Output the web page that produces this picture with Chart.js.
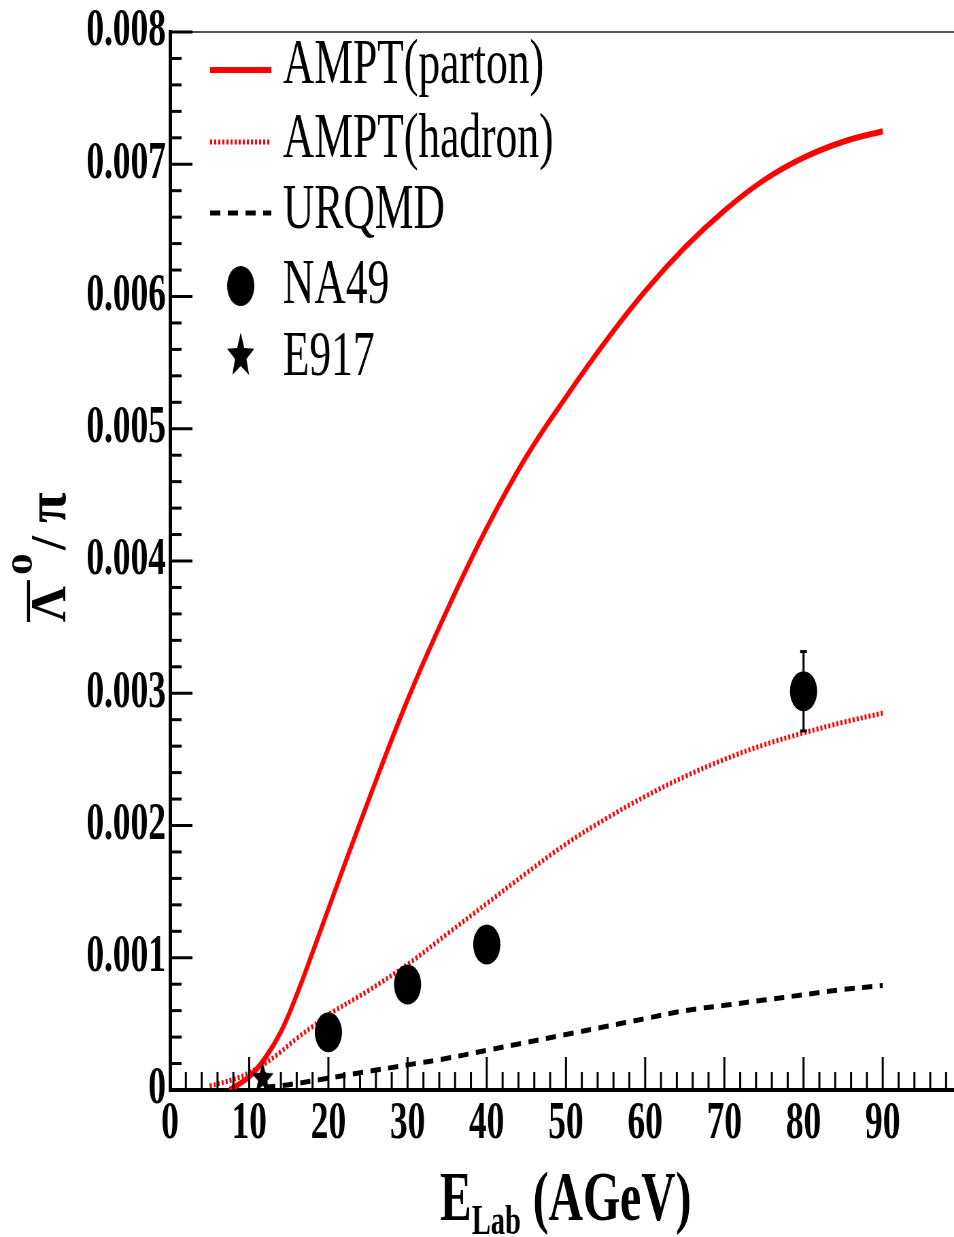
<!DOCTYPE html>
<html>
<head>
<meta charset="utf-8">
<script src="https://cdn.jsdelivr.net/npm/chart.js@4.4.0/dist/chart.umd.min.js"></script>
<style>
  html, body { margin: 0; padding: 0; background: #fff; overflow: hidden; }
  #chart { display: block; }
</style>
</head>
<body>
<!-- the plot is horizontally compressed: draw it wide and shrink it with css -->
<canvas id="chart" width="1403" height="1237" style="width:954px;height:1237px"></canvas>
<script>
const S = 954 / 1403;

// AMPT with partonic phase (solid red)
const partonX = [7.5, 10, 12, 14, 16, 18, 20, 25, 30, 35, 40, 45, 50, 55, 60, 65, 70, 75, 80, 85, 90];
const partonY = [0, 0.0001, 0.00024, 0.00044, 0.00072, 0.00104, 0.00137, 0.00218, 0.00295, 0.00363, 0.00425, 0.00479, 0.00524, 0.00566, 0.00604, 0.00637, 0.00665, 0.00688, 0.00705, 0.00717, 0.00725];

// AMPT hadronic only (dotted red)
const hadronX = [5, 8, 10, 12, 14, 16, 18, 20, 25, 30, 35, 40, 45, 50, 55, 60, 65, 70, 75, 80, 85, 90];
const hadronY = [0.00003, 0.00008, 0.00013, 0.0002, 0.00029, 0.00039, 0.00048, 0.00057, 0.00075, 0.00095, 0.00118, 0.00141, 0.00164, 0.00186, 0.00205, 0.00222, 0.00237, 0.0025, 0.00261, 0.0027, 0.00278, 0.00285];

// URQMD (dashed black)
const urqmdX = [12, 15, 20, 25, 30, 35, 40, 45, 50, 55, 60, 65, 70, 75, 80, 85, 90];
const urqmdY = [0.00002, 0.00004, 0.00009, 0.00014, 0.00019, 0.00024, 0.0003, 0.00036, 0.00042, 0.00048, 0.00054, 0.0006, 0.00064, 0.00068, 0.00072, 0.00076, 0.00079];

// data points
const na49X = [20, 30, 40, 80];
const na49Y = [0.000436, 0.000797, 0.0011, 0.003015];
const na49Err = [0, 0, 0, 0.0003];
const e917X = [11.7];
const e917Y = [0.0001];

const xTicks = [0, 10, 20, 30, 40, 50, 60, 70, 80, 90];
const yTicks = [0, 0.001, 0.002, 0.003, 0.004, 0.005, 0.006, 0.007, 0.008];

const FONT = '"Liberation Serif", "Times New Roman", serif';

function pts(xs, ys) {
    return xs.map((x, i) => ({ x: x, y: ys[i] }));
}

function starPath(g, r, sy) {
    g.beginPath();
    for (let i = 0; i < 10; i++) {
        const rad = i % 2 === 0 ? r : r * 0.42;
        const a = -Math.PI / 2 + i * Math.PI / 5;
        g.lineTo(rad * Math.cos(a), rad * Math.sin(a) * sy);
    }
    g.closePath();
}

function makeStar(r) {
    const c = document.createElement('canvas');
    const size = Math.ceil(r * 2 + 2);
    c.width = size;
    c.height = size;
    const g = c.getContext('2d');
    g.translate(size / 2, size / 2 + r * 0.1);
    starPath(g, r, 1);
    g.fillStyle = '#000';
    g.fill();
    return c;
}
const starImg = makeStar(17);

const decor = {
    id: 'decor',
    afterDatasetsDraw(chart) {
        const { ctx, scales: { x, y } } = chart;
        // error bars
        ctx.save();
        ctx.strokeStyle = '#000';
        ctx.fillStyle = '#000';
        ctx.lineWidth = 3;
        na49X.forEach((v, i) => {
            if (!na49Err[i]) return;
            const px = x.getPixelForValue(v);
            const top = y.getPixelForValue(na49Y[i] + na49Err[i]);
            const bot = y.getPixelForValue(na49Y[i] - na49Err[i]);
            ctx.beginPath();
            ctx.moveTo(px, top);
            ctx.lineTo(px, bot);
            ctx.stroke();
            ctx.fillRect(px - 5, top - 1.5, 10, 3);
            ctx.fillRect(px - 5, bot - 1.5, 10, 3);
        });
        ctx.restore();
    },
    afterDraw(chart) {
        const { ctx, chartArea: a, scales: { x, y } } = chart;
        ctx.save();

        // top frame line
        ctx.strokeStyle = '#555';
        ctx.lineWidth = 2;
        ctx.beginPath();
        ctx.moveTo(a.left, a.top);
        ctx.lineTo(a.right, a.top);
        ctx.stroke();

        // inward ticks, root style
        ctx.strokeStyle = '#000';
        ctx.lineWidth = 3;
        for (let i = 0; i * 2 <= x.max; i++) {
            const px = x.getPixelForValue(i * 2);
            const len = i % 5 === 0 ? 33 : 18;
            ctx.beginPath();
            ctx.moveTo(px, a.bottom);
            ctx.lineTo(px, a.bottom - len);
            ctx.stroke();
        }
        for (let i = 0; i <= 40; i++) {
            const py = y.getPixelForValue(i * 0.0002);
            const len = i % 5 === 0 ? 33 : 17;
            ctx.beginPath();
            ctx.moveTo(a.left, py);
            ctx.lineTo(a.left + len, py);
            ctx.stroke();
        }

        // x tick labels
        ctx.fillStyle = '#000';
        ctx.font = 'bold 52px ' + FONT;
        ctx.textAlign = 'center';
        ctx.textBaseline = 'alphabetic';
        xTicks.forEach(v => {
            ctx.fillText(String(v), x.getPixelForValue(v), 1138);
        });

        // legend
        const ds = chart.data.datasets;
        const rows = [83, 157, 228, 303, 375];
        const lines = [[ds[2], 70], [ds[3], 142], [ds[4], 213]];
        lines.forEach(([d, ly]) => {
            ctx.save();
            ctx.strokeStyle = d.borderColor;
            ctx.lineWidth = d.borderWidth;
            ctx.setLineDash(d.borderDash || []);
            ctx.beginPath();
            ctx.moveTo(309, ly);
            ctx.lineTo(399, ly);
            ctx.stroke();
            ctx.restore();
        });
        ctx.beginPath();
        ctx.arc(354, 286, 20, 0, Math.PI * 2);
        ctx.fill();
        ctx.save();
        ctx.translate(354, 356);
        starPath(ctx, 21, 1.12);
        ctx.fill();
        ctx.restore();

        ctx.font = '64px ' + FONT;
        ctx.textAlign = 'left';
        ['AMPT(parton)', 'AMPT(hadron)', 'URQMD', 'NA49', 'E917'].forEach((t, i) => {
            ctx.fillText(t, 416, rows[i]);
        });

        // x title: E_Lab (AGeV)
        let tx = 647;
        ctx.font = 'bold 70px ' + FONT;
        ctx.fillText('E', tx, 1220);
        tx += ctx.measureText('E').width;
        ctx.font = 'bold 42px ' + FONT;
        ctx.fillText('Lab', tx, 1234);
        tx += ctx.measureText('Lab').width;
        ctx.font = 'bold 70px ' + FONT;
        ctx.fillText(' (AGeV)', tx, 1220);

        // y title, drawn in screen units so it is not compressed
        ctx.save();
        ctx.scale(1 / S, 1);
        ctx.translate(65, 622);
        ctx.rotate(-Math.PI / 2);
        ctx.font = 'bold 50px ' + FONT;
        ctx.fillText('\u039B', 0, 0);
        const wl = ctx.measureText('\u039B').width;
        ctx.fillRect(0, -38, wl + 6, 3);
        ctx.save();
        ctx.translate(47, -33);
        ctx.scale(1.45, 1);
        ctx.font = 'bold 30px ' + FONT;
        ctx.fillText('0', 0, 0);
        ctx.restore();
        ctx.font = 'bold 50px ' + FONT;
        ctx.fillText('/', 72, 0);
        ctx.font = 'bold 56px ' + FONT;
        ctx.fillText('\u03C0', 99, 0);
        ctx.restore();

        ctx.restore();
    }
};

new Chart(document.getElementById('chart'), {
    type: 'scatter',
    data: {
        datasets: [
            {
                label: 'NA49',
                data: pts(na49X, na49Y),
                pointRadius: 20,
                pointBackgroundColor: '#000',
                pointBorderWidth: 0,
                order: 0
            },
            {
                label: 'E917',
                data: pts(e917X, e917Y),
                pointStyle: starImg,
                pointRadius: 17,
                order: 0
            },
            {
                label: 'AMPT(parton)',
                data: pts(partonX, partonY),
                showLine: true,
                borderColor: '#ff0000',
                borderWidth: 6,
                pointRadius: 0,
                tension: 0.4,
                order: 1
            },
            {
                label: 'AMPT(hadron)',
                data: pts(hadronX, hadronY),
                showLine: true,
                borderColor: '#ff0000',
                borderWidth: 5,
                borderDash: [3, 3],
                pointRadius: 0,
                tension: 0.4,
                order: 1
            },
            {
                label: 'URQMD',
                data: pts(urqmdX, urqmdY),
                showLine: true,
                borderColor: '#000',
                borderWidth: 5,
                borderDash: [15, 11],
                pointRadius: 0,
                tension: 0.4,
                order: 1
            }
        ]
    },
    options: {
        responsive: false,
        animation: false,
        devicePixelRatio: 1,
        layout: { autoPadding: false, padding: { top: 26, left: 0, right: 0, bottom: 0 } },
        plugins: {
            legend: { display: false },
            tooltip: { enabled: false }
        },
        scales: {
            x: {
                type: 'linear',
                min: 0,
                max: 99,
                grid: { display: false, drawTicks: false },
                border: { color: '#000', width: 4 },
                ticks: { display: false },
                afterFit: s => { s.height = 147; }
            },
            y: {
                type: 'linear',
                min: 0,
                max: 0.008,
                grid: { display: false, drawTicks: false },
                border: { color: '#000', width: 5 },
                afterBuildTicks: s => { s.ticks = yTicks.map(v => ({ value: v })); },
                ticks: {
                    color: '#000',
                    font: { family: FONT, weight: 'bold', size: 52, lineHeight: 1 },
                    padding: 6,
                    autoSkip: false,
                    callback: v => v === 0 ? '0' : v.toFixed(3)
                },
                afterFit: s => { s.width = 250; }
            }
        }
    },
    plugins: [decor]
});
</script>
</body>
</html>
